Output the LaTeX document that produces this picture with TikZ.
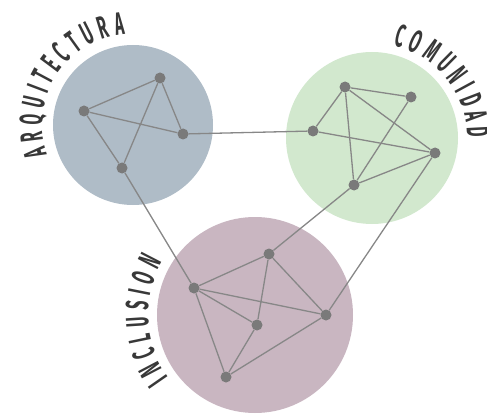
\documentclass[tikz,border=0pt]{standalone}
\usepackage{fontspec}
\usetikzlibrary{decorations.text}
\newfontfamily\ringfont[FakeStretch=0.48]{Fira Sans}
\definecolor{ArqBlue}{HTML}{AFBCC7}
\definecolor{ComGreen}{HTML}{D2E8CE}
\definecolor{IncMauve}{HTML}{C9B6C1}
\definecolor{DotGray}{HTML}{7A7A7A}
\definecolor{LinkGray}{HTML}{878787}
\definecolor{InkGray}{HTML}{383838}
\tikzset{
  ring/.style={circle, inner sep=0pt, minimum size=#1},
  dot/.style={circle, fill=DotGray, inner sep=0pt, minimum size=11pt},
  link/.style={draw=LinkGray, line width=1.3pt},
  ringlabel/.style={decorate, decoration={text along path, text align=fit to path,
      text color=InkGray, text={|\ringfont\bfseries\fontsize{32}{32}\selectfont|#1}}}
}

\begin{document}
\begin{tikzpicture}[x=1pt, y=1pt]
  \useasboundingbox (0,0) rectangle (487,413);

  % the three fields
  \node (arq) [ring=160pt, fill=ArqBlue] at (133,288) {};
  \node (com) [ring=172pt, fill=ComGreen] at (372,275) {};
  \node (inc) [ring=196pt, fill=IncMauve] at (255,98) {};

  % curved titles
  \path[ringlabel=ARQUITECTURA] (arq.center) ++(199:91) arc[start angle=199, end angle=95, radius=91];
  \path[ringlabel=COMUNIDAD] (com.center) ++(77:95) arc[start angle=77, end angle=0, radius=95];
  \path[ringlabel=INCLUSION] (inc.center) ++(216:107) arc[start angle=216, end angle=150, radius=107];

  % points
  \node (a1) [dot] at (160,335) {};
  \node (a2) [dot] at (84,302) {};
  \node (a3) [dot] at (183,279) {};
  \node (a4) [dot] at (122,245) {};

  \node (c1) [dot] at (345,326) {};
  \node (c2) [dot] at (411,316) {};
  \node (c3) [dot] at (313,282) {};
  \node (c4) [dot] at (435,260) {};
  \node (c5) [dot] at (354,228) {};

  \node (i1) [dot] at (269,159) {};
  \node (i2) [dot] at (194,125) {};
  \node (i3) [dot] at (257,88) {};
  \node (i4) [dot] at (326,98) {};
  \node (i5) [dot] at (226,36) {};

  % links
  \draw[link] (a2) -- (a1) -- (a3) -- (a2) -- (a4) -- (a1);
  \draw[link] (a3) -- (c3);
  \draw[link] (a4) -- (i2);

  \draw[link] (c3) -- (c1) -- (c2) -- (c5) -- (c1);
  \draw[link] (c1) -- (c4) -- (c3);
  \draw[link] (c5) -- (c4);
  \draw[link] (c5) -- (i1);
  \draw[link] (c4) -- (i4);

  \draw[link] (i2) -- (i1) -- (i3) -- (i2) -- (i4) -- (i1);
  \draw[link] (i2) -- (i5) -- (i3);
  \draw[link] (i5) -- (i4);
\end{tikzpicture}
\end{document}
